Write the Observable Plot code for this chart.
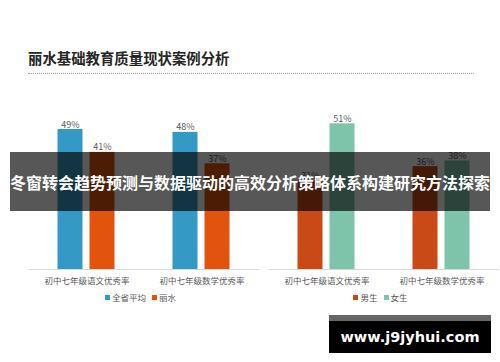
<!DOCTYPE html>
<html><head><meta charset="utf-8">
<script src="https://cdn.jsdelivr.net/npm/d3@7"></script>
<script src="https://cdn.jsdelivr.net/npm/@observablehq/plot@0.6"></script>
<style>
body{margin:0;background:#fff;font-family:"Noto Sans CJK SC","Noto Sans",sans-serif;}
#root{position:relative;width:500px;height:362px;overflow:hidden;background:#fff}
.abs{position:absolute}
#title{left:28px;top:50px;font-size:14.4px;font-weight:bold;color:#262626;line-height:16px;white-space:nowrap}
#dots{left:28px;top:73px;width:446px;height:0;border-top:1px dotted #a0a0a0}
.lgbox{top:291px;width:230px}
#root .lg-swatches{margin:0 !important;min-height:0 !important;justify-content:center !important;font-size:8.5px !important;color:#595959 !important;font-family:"Noto Sans CJK SC",sans-serif !important;}
#root .lg-swatch{margin-right:6px !important}
#root .lg-swatch svg{margin-right:2px !important}
#banner{left:10px;top:152px;width:480px;height:59px;background:rgba(0,0,0,0.66);color:#fff;font-weight:bold;font-size:16px;display:flex;align-items:center;justify-content:center;white-space:nowrap;letter-spacing:0}
#wm{left:329px;top:315px;width:162px;height:38px;box-sizing:border-box;background:#000;border-top:6px solid #666;color:#fff;font-family:"DejaVu Sans",sans-serif;font-weight:bold;font-size:14.5px;display:flex;align-items:center;justify-content:center;white-space:nowrap}
</style></head><body><div id="root"></div><script>
const titleText = "丽水基础教育质量现状案例分析";
const bannerText = "冬窗转会趋势预测与数据驱动的高效分析策略体系构建研究方法探索";
const watermarkText = "www.j9jyhui.com";
const categories = ["初中七年级语文优秀率", "初中七年级数学优秀率"];
const regionSeries = ["全省平均", "丽水"];
const provinceAvg = [0.49, 0.48];
const lishui = [0.41, 0.37];
const genderSeries = ["男生", "女生"];
const boys = [0.31, 0.36];
const girls = [0.51, 0.38];

const root = document.getElementById("root");
function addDiv(id, cls, text) {
  const d = document.createElement("div");
  if (id) d.id = id;
  d.className = cls;
  if (text) d.textContent = text;
  root.appendChild(d);
  return d;
}
addDiv("title", "abs", titleText);
addDiv("dots", "abs");

function panel(series, colors, a, b, left) {
  const data = categories.flatMap((c, i) => [
    {cat: c, s: series[0], v: a[i]},
    {cat: c, s: series[1], v: b[i]}
  ]);
  const chart = Plot.plot({
    width: 260, height: 230,
    marginLeft: 28.5, marginRight: 1.5, marginTop: 17.6, marginBottom: 41,
    style: {fontFamily: "'Noto Sans CJK SC', sans-serif", fontSize: "8.5px", color: "#595959", background: "transparent", overflow: "visible"},
    fx: {domain: categories, padding: 0, label: null, axis: "bottom", tickSize: 0, tickPadding: 8},
    x: {domain: series, paddingInner: 0.215, paddingOuter: 0.877, axis: null},
    y: {domain: [0, 0.6], axis: null},
    color: {domain: series, range: colors},
    marks: [
      Plot.ruleY([0], {stroke: "#d9d9d9"}),
      Plot.barY(data, {fx: "cat", x: "s", y: "v", fill: "s"}),
      Plot.text(data, {fx: "cat", x: "s", y: "v", text: d => Math.round(d.v * 100) + "%", lineAnchor: "bottom", dy: -2, fill: "#595959", fontSize: 9})
    ]
  });
  chart.classList.add("abs");
  chart.style.left = left + "px";
  chart.style.top = "80px";
  root.appendChild(chart);
  const lg = Plot.legend({color: {domain: series, range: colors}, swatchSize: 5, className: "lg"});
  const box = addDiv(null, "abs lgbox");
  box.style.left = (left + 28.5) + "px";
  box.appendChild(lg);
}
panel(regionSeries, ["#3599c5", "#e2540e"], provinceAvg, lishui, 0);
panel(genderSeries, ["#c94a16", "#7ec4ab"], boys, girls, 240);

addDiv("banner", "abs", bannerText);
addDiv("wm", "abs", watermarkText);
</script></body></html>
